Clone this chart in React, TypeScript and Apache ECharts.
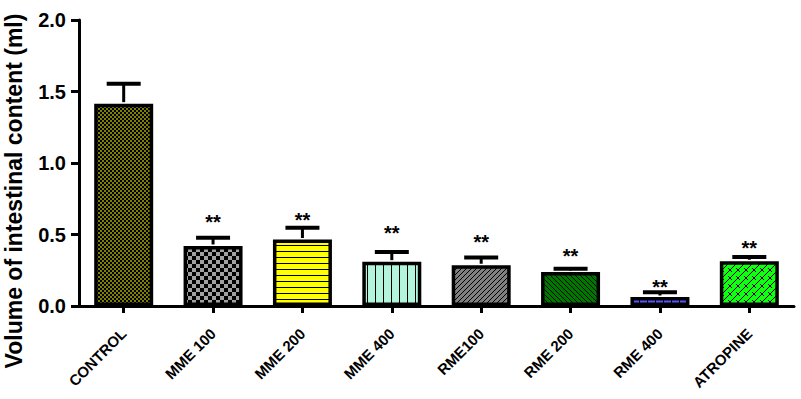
import React, { useEffect, useRef } from 'react';
import * as echarts from 'echarts';

const categories = ['CONTROL', 'MME 100', 'MME 200', 'MME 400', 'RME100', 'RME 200', 'RME 400', 'ATROPINE'];
const means = [1.415, 0.42, 0.465, 0.31, 0.285, 0.238, 0.063, 0.313];
const sem = [0.14, 0.058, 0.083, 0.068, 0.054, 0.022, 0.033, 0.03];
const sigLabels = ['', '**', '**', '**', '**', '**', '**', '**'];
const sigY = [0, 0.62, 0.634, 0.545, 0.483, 0.385, 0.166, 0.44];
const yTicks = [0, 0.5, 1.0, 1.5, 2.0];
const yTitle = 'Volume of intestinal content (ml)';

const FONT = '"Liberation Sans", Arial, sans-serif';

function makePattern(w: number, h: number, bg: string, draw: (px: (x: number, y: number, c?: string) => void, ctx: CanvasRenderingContext2D) => void) {
  const c = document.createElement('canvas');
  c.width = w;
  c.height = h;
  const ctx = c.getContext('2d')!;
  ctx.fillStyle = bg;
  ctx.fillRect(0, 0, w, h);
  const px = (x: number, y: number, col = '#000') => {
    ctx.fillStyle = col;
    ctx.fillRect(x, y, 1, 1);
  };
  draw(px, ctx);
  return { image: c.toDataURL(), imageWidth: w, imageHeight: h, repeat: 'repeat' } as any;
}

function buildPatterns() {
  const control = makePattern(4, 12, '#808000', (px) => {
    for (let y = 0; y < 12; y++) for (let x = 0; x < 4; x++) {
      if ((Math.floor(x / 2) + Math.floor(y / 2)) % 2 === 0) px(x, y);
    }
  });
  const mme100 = makePattern(8, 8, '#a0a0a0', (px, ctx) => {
    ctx.fillStyle = '#000';
    ctx.fillRect(0, 0, 4, 4);
    ctx.fillRect(4, 4, 4, 4);
  });
  const mme200 = makePattern(4, 6, '#ffff00', (px, ctx) => {
    ctx.fillStyle = '#000';
    ctx.fillRect(0, 5, 4, 1);
  });
  const mme400 = makePattern(8, 4, '#b3f5dc', (px, ctx) => {
    ctx.fillStyle = '#000';
    ctx.fillRect(7, 0, 1, 4);
  });
  const rme100 = makePattern(5, 5, '#808080', (px) => {
    for (let i = 0; i < 5; i++) px(i, 4 - i);
  });
  const rme200 = makePattern(5, 5, '#007800', (px) => {
    for (let i = 0; i < 5; i++) px(i, i);
  });
  const rme400 = makePattern(8, 8, '#5555ff', (px, ctx) => {
    ctx.fillStyle = '#000';
    ctx.fillRect(7, 0, 1, 8);
    ctx.fillRect(0, 7, 8, 1);
  });
  const atropine = makePattern(8, 8, '#11ff11', (px) => {
    for (let i = 0; i < 8; i++) px(i, 7 - i);
    for (let i = 0; i < 4; i++) px(i, i + 4);
  });
  return [control, mme100, mme200, mme400, rme100, rme200, rme400, atropine];
}

export default function App() {
  const ref = useRef<HTMLDivElement>(null);
  useEffect(() => {
    document.body.style.margin = '0';
    const chart = echarts.init(ref.current!, null, { renderer: 'svg' });
    const patterns = buildPatterns();
    chart.setOption({
      animation: false,
      backgroundColor: '#fff',
      grid: { left: 79, right: 7, top: 20, bottom: 93 },
      graphic: [
        {
          type: 'text',
          x: 14,
          y: 191,
          rotation: Math.PI / 2,
          style: {
            text: yTitle,
            font: `bold 23px ${FONT}`,
            fill: '#000',
            textAlign: 'center',
            textVerticalAlign: 'middle',
          },
        },
      ],
      xAxis: {
        type: 'category',
        data: categories,
        axisLine: { show: true, lineStyle: { color: '#000', width: 3 } },
        axisTick: { show: true, alignWithLabel: true, length: 7, lineStyle: { color: '#000', width: 3 } },
        axisLabel: {
          interval: 0,
          rotate: 45,
          margin: 25,
          color: '#000',
          fontWeight: 'bold',
          fontSize: 15,
          fontFamily: FONT,
        },
        splitLine: { show: false },
      },
      yAxis: {
        type: 'value',
        min: yTicks[0],
        max: yTicks[yTicks.length - 1],
        interval: 0.5,
        axisLine: { show: true, lineStyle: { color: '#000', width: 3 } },
        axisTick: { show: true, length: 8, lineStyle: { color: '#000', width: 3 } },
        axisLabel: {
          margin: 13,
          color: '#000',
          fontWeight: 'bold',
          fontSize: 20,
          fontFamily: FONT,
          formatter: (v: number) => v.toFixed(1),
        },
        splitLine: { show: false },
      },
      series: [
        {
          type: 'bar',
          barWidth: '66%',
          data: means.map((m, i) => ({
            value: m,
            itemStyle: { color: patterns[i], borderColor: '#000', borderWidth: 3.5 },
          })),
          z: 2,
        },
        {
          type: 'custom',
          z: 3,
          data: categories.map((c, i) => [i, means[i], sem[i]]),
          renderItem: (params: any, api: any) => {
            const x = api.value(0);
            const m = api.value(1);
            const e = api.value(2);
            const base = api.coord([x, m]);
            const top = api.coord([x, m + e]);
            const half = 17;
            return {
              type: 'group',
              children: [
                { type: 'line', shape: { x1: base[0], y1: base[1] - 1.5, x2: top[0], y2: top[1] }, style: { stroke: '#000', lineWidth: 3 } },
                { type: 'line', shape: { x1: top[0] - half, y1: top[1], x2: top[0] + half, y2: top[1] }, style: { stroke: '#000', lineWidth: 4 } },
              ],
            };
          },
        },
        {
          type: 'custom',
          z: 4,
          data: categories.map((c, i) => [i, sigY[i], i]),
          renderItem: (params: any, api: any) => {
            const idx = api.value(2);
            const p = api.coord([api.value(0), api.value(1)]);
            return {
              type: 'text',
              x: p[0],
              y: p[1] + 5,
              style: {
                text: sigLabels[idx],
                font: `bold 20px ${FONT}`,
                fill: '#000',
                textAlign: 'center',
                textVerticalAlign: 'middle',
              },
            };
          },
        },
      ],
    });
    return () => chart.dispose();
  }, []);
  return <div ref={ref} style={{ position: 'absolute', left: 0, top: 0, width: 801, height: 399 }} />;
}
